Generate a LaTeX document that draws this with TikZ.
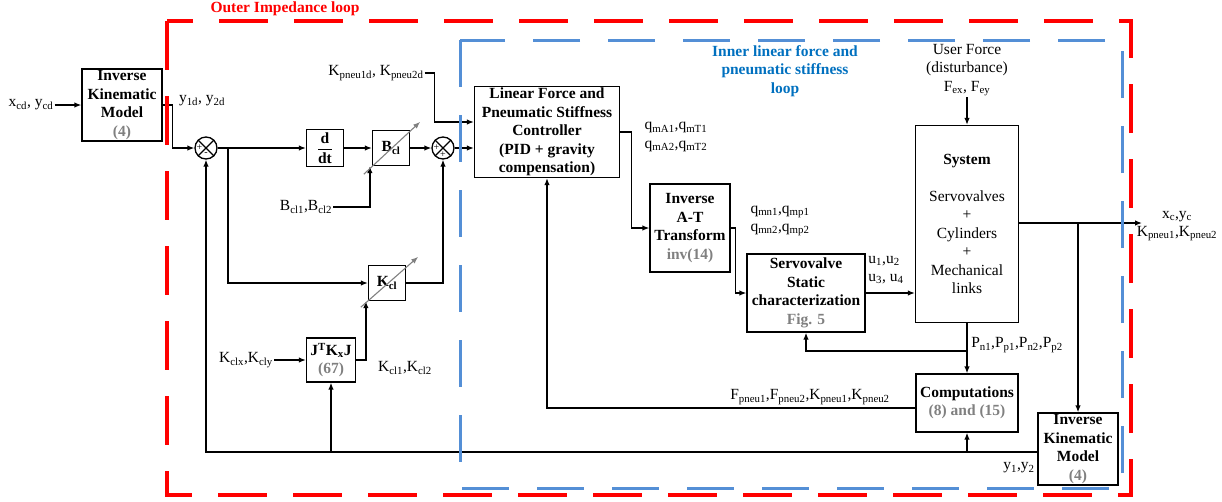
\documentclass[tikz,border=0pt]{standalone}
\usepackage{fontspec}
\setmainfont{Liberation Serif}
\usetikzlibrary{arrows.meta}
\definecolor{loopred}{rgb}{1.0,0.0,0.0}
\definecolor{loopblue}{rgb}{0.33,0.56,0.84}
\definecolor{titleblue}{rgb}{0.0,0.44,0.75}
\definecolor{eqgray}{rgb}{0.5,0.5,0.5}

\begin{document}
\begin{tikzpicture}[
  x=1pt, y=-1pt,
  >={Latex[length=7pt,width=5.5pt]},
  every node/.style={font=\fontsize{15.5}{18.5}\selectfont, inner sep=1pt},
  blk/.style={rectangle, draw=black, line width=1.3pt, align=center,
    font=\fontsize{15.5}{18.5}\selectfont\bfseries},
  lbl/.style={align=center},
  sumnode/.style={circle, draw=black, line width=1.3pt, minimum size=22pt, inner sep=0pt},
  sgn/.style={font=\fontsize{10}{10}\selectfont, inner sep=0pt},
  sig/.style={->, line width=1.3pt},
  adj/.style={->, draw=eqgray, line width=1.1pt},
]
\useasboundingbox (0,0) rectangle (1222,501);

% ---- outer loop: reference, jacobian and stiffness path ----
\node[blk, minimum width=80pt, minimum height=72pt] (ikmA) at (122,105) {Inverse\\Kinematic\\Model\\\textcolor{eqgray}{(4)}};
\node[sumnode] (s1) at (206,148) {};
\node[blk, minimum width=37pt, minimum height=37pt] (ddt) at (325,148) {$\displaystyle\frac{\textbf{d}}{\textbf{dt}}$};
\node[blk, minimum width=37pt, minimum height=35pt] (bcl) at (391,148) {B\textsubscript{cl}};
\node[sumnode] (s2) at (443,148) {};
\node[blk, minimum width=37pt, minimum height=35pt] (kcl) at (387,283) {K\textsubscript{cl}};
\node[blk, minimum width=49pt, minimum height=44pt] (jkj) at (331,360) {J\textsuperscript{T}K\textsubscript{x}J\\\textcolor{eqgray}{(67)}};

% ---- inner loop blocks ----
\node[blk, minimum width=145pt, minimum height=91pt] (ctrl) at (547,132) {Linear Force and\\Pneumatic Stiffness\\Controller\\(PID + gravity\\compensation)};
\node[blk, minimum width=80pt, minimum height=88pt] (iat) at (690,228) {Inverse\\A-T\\Transform\\\textcolor{eqgray}{inv(14)}};
\node[blk, minimum width=118pt, minimum height=78pt] (sv) at (806,293) {Servovalve\\Static\\characterization\\\textcolor{eqgray}{Fig. 5}};
\node[blk, minimum width=103pt, minimum height=197pt, font=\fontsize{15.5}{18.5}\selectfont] (sys) at (967,224) {\textbf{System}\\[18.5pt]Servovalves\\+\\Cylinders\\+\\Mechanical\\links};
\node[blk, minimum width=102pt, minimum height=58pt] (comp) at (967,403) {Computations\\\textcolor{eqgray}{(8) and (15)}};
\node[blk, minimum width=80pt, minimum height=72pt] (ikmB) at (1078,449) {Inverse\\Kinematic\\Model\\\textcolor{eqgray}{(4)}};

% ---- summing junction signs ----
\draw[line width=1.1pt] (s1.north west) -- (s1.south east) (s1.north east) -- (s1.south west);
\draw[line width=1.1pt] (s2.north west) -- (s2.south east) (s2.north east) -- (s2.south west);
\node[sgn] (s1p) at ([shift={(-6.5,0)}]s1.center) {+};
\node[sgn] (s1m) at ([shift={(0,6.5)}]s1.center) {-};
\node[sgn] (s2p) at ([shift={(-6.5,0)}]s2.center) {+};
\node[sgn] (s2q) at ([shift={(0,6.5)}]s2.center) {+};

% ---- signal labels ----
\node (xin)   at (31,105)   {x\textsubscript{cd}, y\textsubscript{cd}};
\node (y1d)   at (202,101)  {y\textsubscript{1d}, y\textsubscript{2d}};
\node (kpn)   at (376,73)   {K\textsubscript{pneu1d}, K\textsubscript{pneu2d}};
\node (bclab) at (306,207)  {B\textsubscript{cl1},B\textsubscript{cl2}};
\node (kclxy) at (246,360)  {K\textsubscript{clx},K\textsubscript{cly}};
\node (kcl12) at (405,368)  {K\textsubscript{cl1},K\textsubscript{cl2}};
\node[align=left] (qma) at (676,137) {q\textsubscript{mA1},q\textsubscript{mT1}\\q\textsubscript{mA2},q\textsubscript{mT2}};
\node[align=left] (qmn) at (780,221) {q\textsubscript{mn1},q\textsubscript{mp1}\\q\textsubscript{mn2},q\textsubscript{mp2}};
\node[align=left] (uin) at (886,270) {u\textsubscript{1},u\textsubscript{2}\\u\textsubscript{3}, u\textsubscript{4}};
\node[lbl] (uf)  at (967,70)  {User Force\\(disturbance)\\F\textsubscript{ex}, F\textsubscript{ey}};
\node[lbl] (xc)  at (1177,226) {x\textsubscript{c},y\textsubscript{c}\\K\textsubscript{pneu1},K\textsubscript{pneu2}};
\node (pp)    at (1017,345) {P\textsubscript{n1},P\textsubscript{p1},P\textsubscript{n2},P\textsubscript{p2}};
\node (fp)    at (810,397)  {F\textsubscript{pneu1},F\textsubscript{pneu2},K\textsubscript{pneu1},K\textsubscript{pneu2}};
\node (y12)   at (1019,468) {y\textsubscript{1},y\textsubscript{2}};

% ---- free ends and junctions ----
\coordinate (br1)  at (228,148);
\coordinate (fbR)  at (1038,452);
\coordinate (outp) at (1142,223);
\coordinate (pj)   at (967,351);
\coordinate (fpL)  at (916,408);

% ---- connectors ----
\draw[sig] (xin.east) -- (ikmA.west);
\draw[sig] (ikmA.east) -- ++(10,0) |- (s1.west);
\draw[sig] (s1.east) -- (ddt.west);
\draw[sig] (br1) |- (kcl.west);
\draw[sig] (ddt.east) -- (bcl.west);
\draw[sig] (bcl.east) -- (s2.west);
\draw[sig] (bclab.east) -| ([xshift=-2pt]bcl.south west);
\draw[sig] (kcl.east) -| (s2.south);
\draw[sig] (kclxy.east) -- (jkj.west);
\draw[sig] (jkj.east) -| ([xshift=-2pt]kcl.south west);
\draw[sig] (fbR) -| (s1.south);
\draw[sig] (jkj.south |- fbR) -- (jkj.south);
\draw[sig] (comp.south |- fbR) -- (comp.south);
\draw[sig] (kpn.east) -- ++(10,0) |- ([yshift=10pt]ctrl.west);
\draw[sig] (s2.east) -- (ctrl.west |- s2.east);
\draw[sig] (ctrl.east) -- ++(11,0) |- (iat.west);
\draw[sig] (iat.east) -- ++(5,0) |- (sv.west);
\draw[sig] (sv.east) -- (sys.west |- sv.east);
\draw[sig] (uf.south) -- (sys.north);
\draw[sig] (sys.east |- outp) -- (outp);
\draw[sig] (ikmB.north |- outp) -- (ikmB.north);
\draw[sig] (sys.south) -- (comp.north);
\draw[sig] (pj) -| (sv.south);
\draw[sig] (fpL) -| (ctrl.south);

% ---- adjustable gains ----
\draw[adj] ([shift={(-8,8)}]bcl.south west) -- ([shift={(10,-8)}]bcl.north east);
\draw[adj] ([shift={(-7,6)}]kcl.south west) -- ([shift={(12,-8)}]kcl.north east);

% ---- loop frames ----
\draw[loopred, line width=3.5pt, dash pattern=on 49pt off 26pt] (167,21) rectangle (1131,495);
\draw[loopblue, line width=3pt, dash pattern=on 47pt off 28pt] (460,40) rectangle (1122,488);
\node[font=\fontsize{15.5}{18.5}\selectfont\bfseries, text=loopred] (outer) at (285,9) {Outer Impedance loop};
\node[lbl, font=\fontsize{15.5}{18.5}\selectfont\bfseries, text=titleblue] (inner) at (785,71) {Inner linear force and\\pneumatic stiffness\\loop};

\end{tikzpicture}
\end{document}
